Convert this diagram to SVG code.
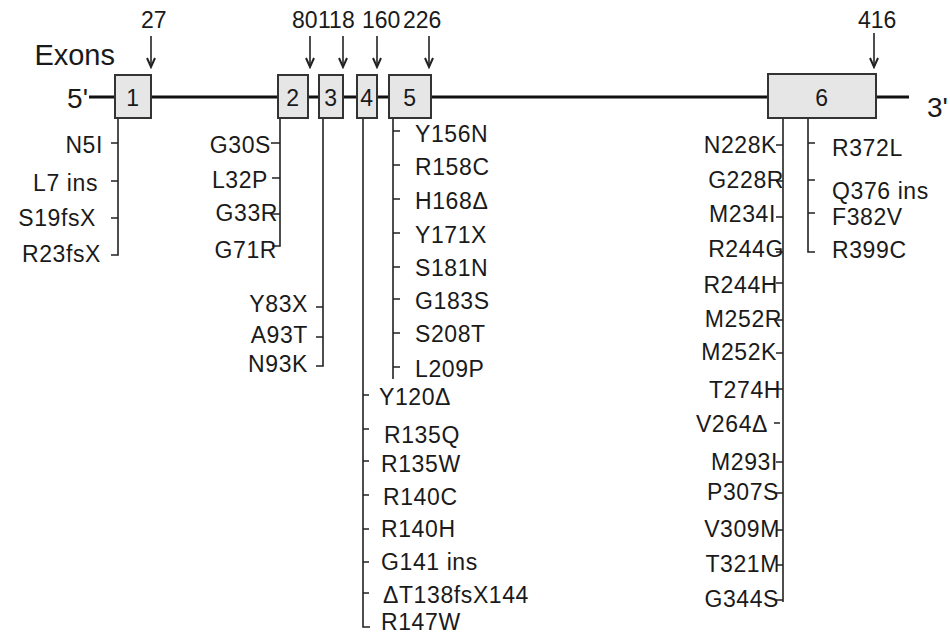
<svg xmlns="http://www.w3.org/2000/svg" width="950" height="635" viewBox="0 0 950 635">
<style>
.t{font-family:"Liberation Sans",Arial,sans-serif;font-size:23px;fill:#1a1a1a;letter-spacing:0.6px}
.e{text-anchor:end}
.m{text-anchor:middle}
.big{font-size:28px;letter-spacing:0}
.num{font-size:23px;letter-spacing:0}
.box{fill:#e6e6e6;stroke:#333;stroke-width:2}
.c{stroke:#222;stroke-width:1.6;fill:none}
.bb{stroke:#111;stroke-width:3;fill:none}
.ar{stroke:#222;stroke-width:1.6;fill:none;marker-end:url(#ah)}
</style>
<defs>
<marker id="ah" markerUnits="userSpaceOnUse" markerWidth="12" markerHeight="12" refX="9" refY="0" viewBox="-1 -6 12 12" orient="auto">
<path d="M0,-4 L9,0 L0,4" fill="none" stroke="#222" stroke-width="2"/>
</marker>
</defs>
<rect width="950" height="635" fill="#fff"/>

<g id="title">
<text class="t e" x="115" y="65" style="font-size:29px;letter-spacing:0">Exons</text>
<text class="t e big" x="88" y="108">5'</text>
<text class="t big" x="927" y="117">3'</text>
</g>

<g id="connectors">
<path class="bb" d="M89,97 H909"/>
<line class="ar" x1="151" y1="36" x2="151" y2="67"/>
<line class="ar" x1="310" y1="36" x2="310" y2="67"/>
<line class="ar" x1="343" y1="36" x2="343" y2="67"/>
<line class="ar" x1="377" y1="36" x2="377" y2="67"/>
<line class="ar" x1="429" y1="36" x2="429" y2="67"/>
<line class="ar" x1="874" y1="33" x2="874" y2="67"/>
<!-- exon 1 -->
<path class="c" d="M118,118 V255 H111 M111,143 H118 M111,181 H118 M111,218 H118"/>
<!-- exon 2 -->
<path class="c" d="M280,118 V246 H272 M271,143 H280 M272,178 H280 M272,214 H280"/>
<!-- exon 3 -->
<path class="c" d="M323,118 V366 H316 M316,307 H323 M316,337 H323"/>
<!-- exon 4 -->
<path class="c" d="M363,118 V627 H370 M363,395 H369 M363,429 H369 M363,461 H369 M363,495 H369 M363,529 H369 M363,562 H369 M363,593 H369"/>
<!-- exon 5 -->
<path class="c" d="M393,118 V379 M393,131 H400 M393,165 H400 M393,199 H400 M393,233 H400 M393,267 H400 M393,299 H400 M393,333 H400 M393,367 H400"/>
<!-- exon 6 right -->
<path class="c" d="M808,118 V252 H815 M808,143 H815 M808,180 H815 M808,213 H815"/>
<!-- exon 6 left -->
<path class="c" d="M783,118 V602 M776,145 H783 M776,181 H783 M776,217 H783 M776,252 H783 M776,283 H783 M776,320 H783 M776,353 H783 M776,389 H783 M774,423 H780 M776,462 H783 M776,493 H783 M776,530 H783 M776,565 H783 M776,600 H783"/>
</g>

<g id="positions">
<text class="t num" x="141" y="28">27</text>
<text class="t num" x="292" y="28">80</text>
<text class="t num" x="318" y="28">118</text>
<text class="t num" x="362" y="28">160</text>
<text class="t num" x="403" y="28">226</text>
<text class="t num" x="858" y="28">416</text>
</g>

<g id="exon1">
<rect class="box" x="115" y="75" width="36" height="43"/>
<text class="t m" x="133" y="106">1</text>
<text class="t e" x="103" y="153">N5I</text>
<text class="t e" x="98" y="191">L7 ins</text>
<text class="t e" x="96" y="226">S19fsX</text>
<text class="t e" x="101" y="262">R23fsX</text>
</g>

<g id="exon2">
<rect class="box" x="278" y="75" width="30" height="43"/>
<text class="t m" x="293" y="106">2</text>
<text class="t e" x="271" y="153">G30S</text>
<text class="t e" x="268" y="188">L32P</text>
<text class="t e" x="278" y="221">G33R</text>
<text class="t e" x="277" y="258">G71R</text>
</g>

<g id="exon3">
<rect class="box" x="319" y="75" width="24" height="43"/>
<text class="t m" x="331" y="106">3</text>
<text class="t e" x="308" y="312">Y83X</text>
<text class="t e" x="308" y="343">A93T</text>
<text class="t e" x="308" y="372">N93K</text>
</g>

<g id="exon4">
<rect class="box" x="357" y="75" width="20" height="43"/>
<text class="t m" x="367" y="106">4</text>
<text class="t" x="379" y="405">Y120Δ</text>
<text class="t" x="384" y="443">R135Q</text>
<text class="t" x="381" y="472">R135W</text>
<text class="t" x="383" y="505">R140C</text>
<text class="t" x="381" y="537">R140H</text>
<text class="t" x="381" y="570">G141 ins</text>
<text class="t" x="383" y="603">ΔT138fsX144</text>
<text class="t" x="381" y="630">R147W</text>
</g>

<g id="exon5">
<rect class="box" x="389" y="75" width="42" height="43"/>
<text class="t m" x="410" y="106">5</text>
<text class="t" x="415" y="142">Y156N</text>
<text class="t" x="415" y="175">R158C</text>
<text class="t" x="415" y="209">H168Δ</text>
<text class="t" x="415" y="243">Y171X</text>
<text class="t" x="415" y="276">S181N</text>
<text class="t" x="415" y="309">G183S</text>
<text class="t" x="415" y="342">S208T</text>
<text class="t" x="415" y="377">L209P</text>
</g>

<g id="exon6">
<rect class="box" x="768" y="74" width="108" height="44"/>
<text class="t m" x="822" y="106">6</text>
<text class="t" x="832" y="156">R372L</text>
<text class="t" x="832" y="199">Q376 ins</text>
<text class="t" x="832" y="225">F382V</text>
<text class="t" x="832" y="258">R399C</text>
<text class="t e" x="777" y="153">N228K</text>
<text class="t e" x="784" y="188">G228R</text>
<text class="t e" x="776" y="222">M234I</text>
<text class="t e" x="784" y="257">R244G</text>
<text class="t e" x="778" y="293">R244H</text>
<text class="t e" x="782" y="327">M252R</text>
<text class="t e" x="777" y="360">M252K</text>
<text class="t e" x="781" y="398">T274H</text>
<text class="t e" x="768" y="432">V264Δ</text>
<text class="t e" x="778" y="470">M293I</text>
<text class="t e" x="779" y="500">P307S</text>
<text class="t e" x="780" y="537">V309M</text>
<text class="t e" x="780" y="572">T321M</text>
<text class="t e" x="779" y="607">G344S</text>
</g>
</svg>
